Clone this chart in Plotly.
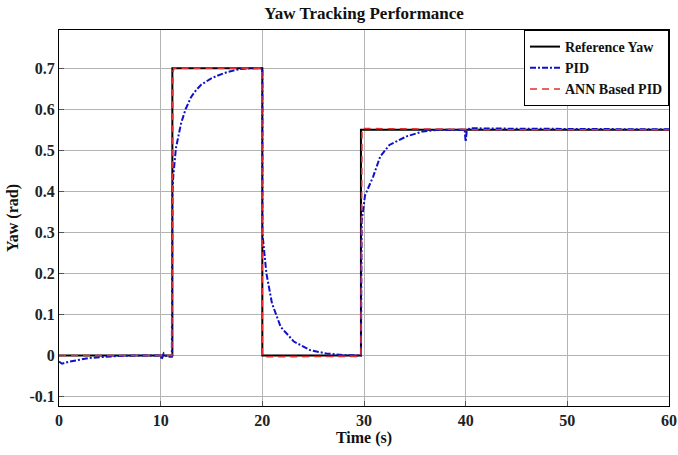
import plotly.graph_objects as go

# Reference yaw (step profile)
ref_t = [0, 11.15, 11.15, 20.0, 20.0, 29.7, 29.7, 60]
ref_y = [0, 0, 0.7, 0.7, 0, 0, 0.55, 0.55]

# PID response
pid_t = [0, 0.3, 1, 2, 3, 4, 5, 6, 8, 10.0, 10.1, 10.3, 10.6, 11.1, 11.15, 11.25, 11.5, 12.0, 12.45,
         13, 13.5, 14, 14.9, 15.5, 16.5, 17.8, 19, 20.0, 20.0, 20.07, 20.4, 20.95, 21.8, 23.1, 24.7,
         26.3, 28, 29.7, 29.7, 29.77, 30.1, 30.9, 31.6, 32.5, 34.2, 35.8, 37.4, 39.9, 40.0, 40.1,
         40.4, 42, 50, 60]
pid_y = [-0.015, -0.02, -0.015, -0.01, -0.006, -0.004, -0.002, -0.001, 0.0, 0.0, -0.01, 0.005,
         -0.003, -0.003, 0.40, 0.44, 0.505, 0.565, 0.60, 0.63, 0.647, 0.66, 0.674, 0.681, 0.69,
         0.698, 0.7, 0.7, 0.30, 0.282, 0.2, 0.127, 0.07, 0.034, 0.013, 0.005, 0.001, 0.0, 0.30,
         0.326, 0.39, 0.436, 0.485, 0.513, 0.534, 0.546, 0.55, 0.55, 0.521, 0.545, 0.554, 0.553,
         0.552, 0.551]

# ANN based PID response
ann_t = [0, 11.1, 11.2, 11.3, 19.95, 20.0, 20.1, 29.65, 29.7, 29.8, 40, 40.1, 40.5, 60]
ann_y = [0, 0, 0.69, 0.7, 0.7, 0.0, -0.003, -0.002, 0.0, 0.553, 0.551, 0.549, 0.55, 0.55]

x_ticks = [0, 10, 20, 30, 40, 50, 60]
y_ticks = [-0.1, 0, 0.1, 0.2, 0.3, 0.4, 0.5, 0.6, 0.7]
y_labels = ["-0.1", "0", "0.1", "0.2", "0.3", "0.4", "0.5", "0.6", "0.7"]

FONT = "Liberation Serif"

fig = go.Figure()
fig.add_trace(go.Scatter(x=ref_t, y=ref_y, mode="lines", name="<b>Reference Yaw</b>",
                         line=dict(color="black", width=2)))
fig.add_trace(go.Scatter(x=pid_t, y=pid_y, mode="lines", name="<b>PID</b>",
                         line=dict(color="#1010c8", width=2, dash="6px,2px,2px,2px")))
fig.add_trace(go.Scatter(x=ann_t, y=ann_y, mode="lines", name="<b>ANN Based PID</b>",
                         line=dict(color="#e03030", width=1.6, dash="7px,5px")))

axis_common = dict(showline=True, linecolor="black", linewidth=1, mirror=True,
                   showgrid=True, gridcolor="#b4b4b4", gridwidth=1, zeroline=False,
                   ticks="inside", ticklen=5, tickcolor="#555", automargin=False,
                   tickfont=dict(family=FONT, size=16, color="#222", weight="bold"))

fig.update_layout(
    width=678, height=455,
    margin=dict(l=59, r=9, t=30, b=49, autoexpand=False),
    paper_bgcolor="white", plot_bgcolor="white",
    title=dict(text="<b>Yaw Tracking Performance</b>", x=0.537, xanchor="center", y=0.985,
               yanchor="top", font=dict(family=FONT, size=17, color="#111")),
    xaxis=dict(range=[0, 60], tickvals=x_ticks,
               title=dict(text="<b>Time (s)</b>", font=dict(family=FONT, size=16, color="#111"),
                          standoff=2),
               **axis_common),
    yaxis=dict(range=[-0.123, 0.793], tickvals=y_ticks, ticktext=y_labels,
               title=dict(text="<b>Yaw (rad)</b>", font=dict(family=FONT, size=16, color="#111"),
                          standoff=6),
               **axis_common),
    legend=dict(x=1, y=1, xanchor="right", yanchor="top", bgcolor="white",
                bordercolor="black", borderwidth=1,
                font=dict(family=FONT, size=14, color="#111"), tracegroupgap=0),
    showlegend=True,
)

fig.write_html("out.html")
